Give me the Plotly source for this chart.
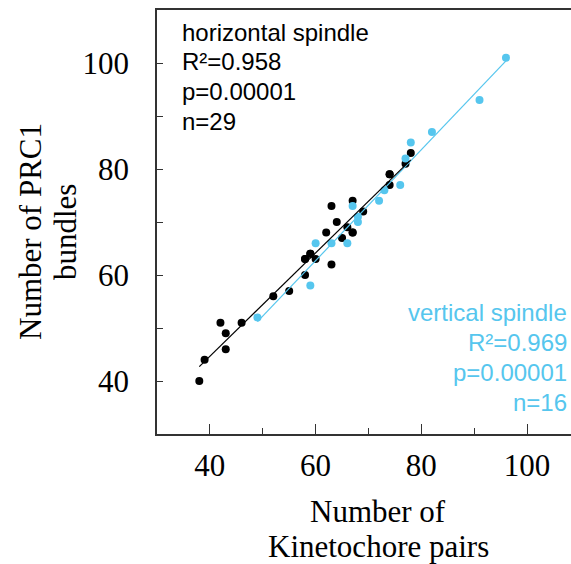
import plotly.graph_objects as go
import numpy as np

# horizontal spindle (black)
h_x = [38, 39, 42, 43, 43, 46, 52, 55, 58, 58, 59, 60, 63, 62, 63, 64, 65, 66, 67, 67, 69, 74, 74, 77, 78,
       58, 59, 67, 74]
h_y = [40, 44, 51, 49, 46, 51, 56, 57, 60, 63, 64, 63, 62, 68, 73, 70, 67, 69, 74, 68, 72, 79, 77, 81, 83,
       63, 64, 68, 79]

# vertical spindle (blue)
v_x = [49, 59, 60, 63, 66, 67, 68, 68, 72, 73, 76, 77, 78, 82, 91, 96]
v_y = [52, 58, 66, 66, 66, 73, 71, 70, 74, 76, 77, 82, 85, 87, 93, 101]

x_ticks = [40, 60, 80, 100]
y_ticks = [40, 60, 80, 100]
x_minor = [50, 70, 90]
y_minor = [50, 70, 90]

h_text = ["horizontal spindle", "R²=0.958", "p=0.00001", "n=29"]
v_text = ["vertical spindle", "R²=0.969", "p=0.00001", "n=16"]

BLUE = "#56C6EE"
W, H = 571, 564
L, R, T, B = 157, 0, 10, 130


def px2paper(px, py):
    return (px - L) / (W - L - R), (H - B - py) / (H - T - B)


def fit_line(xs, ys):
    m, c = np.polyfit(xs, ys, 1)
    xx = np.array([min(xs), max(xs)], dtype=float)
    return xx, m * xx + c


fig = go.Figure()
fig.add_trace(go.Scatter(x=h_x, y=h_y, mode="markers",
                         marker=dict(color="black", size=8), showlegend=False))
fig.add_trace(go.Scatter(x=v_x, y=v_y, mode="markers",
                         marker=dict(color=BLUE, size=8), showlegend=False))
hx, hy = fit_line(h_x, h_y)
vx, vy = fit_line(v_x, v_y)
fig.add_trace(go.Scatter(x=vx, y=vy, mode="lines",
                         line=dict(color=BLUE, width=1.2), showlegend=False))
fig.add_trace(go.Scatter(x=hx, y=hy, mode="lines",
                         line=dict(color="black", width=1.2), showlegend=False))

serif = "Liberation Serif, Times New Roman, serif"
sans = "Liberation Sans, Arial, sans-serif"

fig.update_layout(
    width=W, height=H,
    margin=dict(l=L, r=R, t=T, b=B, pad=0),
    paper_bgcolor="white", plot_bgcolor="white",
    xaxis=dict(range=[30, 108.3], tickvals=x_ticks, ticks="inside", ticklen=10,
               tickcolor="#333", tickwidth=1.3,
               minor=dict(tickvals=x_minor, ticks="inside", ticklen=6,
                          tickcolor="#333", tickwidth=1.3),
               showline=True, linecolor="#333", linewidth=1.5, mirror=True,
               showgrid=False, zeroline=False,
               tickfont=dict(family=serif, size=31, color="black"),
               ticklabelstandoff=3),
    yaxis=dict(range=[30, 110], tickvals=y_ticks, ticks="inside", ticklen=6,
               tickcolor="#333", tickwidth=1.3,
               minor=dict(tickvals=y_minor, ticks="inside", ticklen=6,
                          tickcolor="#333", tickwidth=1.3),
               showline=True, linecolor="#333", linewidth=1.5, mirror=False,
               showgrid=False, zeroline=False,
               tickfont=dict(family=serif, size=31, color="black"),
               ticklabelstandoff=20),
)

anns = []
for i, t in enumerate(h_text):
    x, y = px2paper(180, 32 + 29.7 * i)
    anns.append(dict(text=t, x=x, y=y, xref="paper", yref="paper", xanchor="left",
                     yanchor="middle", showarrow=False,
                     font=dict(family=sans, size=24, color="black")))
for i, t in enumerate(v_text):
    x, y = px2paper(569, 313 + 29.7 * i)
    anns.append(dict(text=t, x=x, y=y, xref="paper", yref="paper", xanchor="right",
                     yanchor="middle", showarrow=False,
                     font=dict(family=sans, size=24, color=BLUE)))
# axis titles
for t, py in [("Number of", 512), ("Kinetochore pairs", 546)]:
    x, y = px2paper(378, py)
    anns.append(dict(text=t, x=x, y=y, xref="paper", yref="paper", xanchor="center",
                     yanchor="middle", showarrow=False,
                     font=dict(family=serif, size=31, color="black")))
for t, pxx in [("Number of PRC1", 30), ("bundles", 65)]:
    x, y = px2paper(pxx, 232)
    anns.append(dict(text=t, x=x, y=y, xref="paper", yref="paper", xanchor="center",
                     yanchor="middle", showarrow=False, textangle=-90,
                     font=dict(family=serif, size=31, color="black")))
fig.update_layout(annotations=anns)

fig.write_html("out.html",
               config={"displayModeBar": False},
               post_script="document.body.style.margin='0px';"
                           "document.body.style.padding='0px';"
                           "document.body.style.overflow='hidden';")
